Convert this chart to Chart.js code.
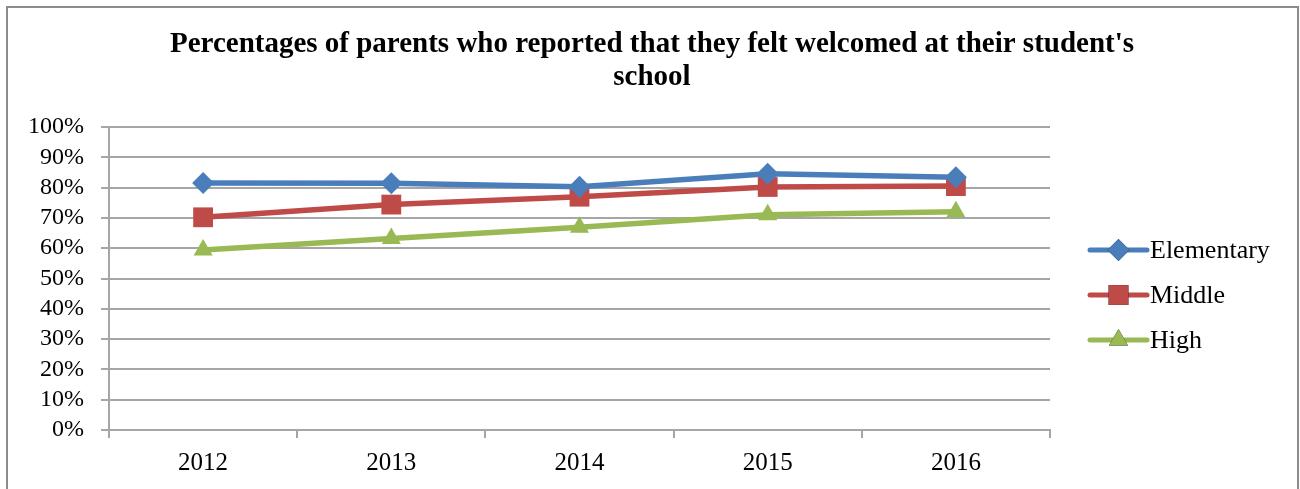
<!DOCTYPE html>
<html lang="en">
<head>
    <meta charset="UTF-8">
    <title>Parents who felt welcomed</title>
    <script src="https://cdn.jsdelivr.net/npm/chart.js@4.4.0/dist/chart.umd.min.js"></script>
    <style>
        html, body { margin: 0; padding: 0; background: #fff; }
        #wrap { width: 1300px; height: 489px; position: relative; }
    </style>
</head>
<body>
<div id="wrap"><canvas id="chart" width="1300" height="489"></canvas></div>

<script>
    // chart data
    const years = ['2012', '2013', '2014', '2015', '2016'];
    const elementary = [81.5, 81.4, 80.3, 84.6, 83.4];
    const middle = [70.2, 74.4, 77.0, 80.2, 80.5];
    const high = [59.4, 63.2, 66.9, 71.0, 72.0];
    const seriesNames = ['Elementary', 'Middle', 'High'];
    const yTicks = [0, 10, 20, 30, 40, 50, 60, 70, 80, 90, 100];
    const titleLines = ["Percentages of parents who reported that they felt welcomed at their student's", 'school'];

    const serif = "'Liberation Serif', 'Times New Roman', serif";
    const gridGray = '#a6a6a6';

    // frame + title (title centred over the whole picture, not the plot)
    const framePlugin = {
        id: 'frame',
        beforeDraw(chart) {
            const ctx = chart.ctx;
            ctx.save();
            ctx.fillStyle = '#fff';
            ctx.fillRect(0, 0, chart.width, chart.height);
            ctx.strokeStyle = '#8c8c8c';
            ctx.lineWidth = 2;
            ctx.strokeRect(7, 7, 1291, 500);
            ctx.fillStyle = '#000';
            ctx.font = 'bold 29px ' + serif;
            ctx.textAlign = 'center';
            ctx.textBaseline = 'middle';
            titleLines.forEach((t, i) => ctx.fillText(t, 652, 45 + i * 33));
            ctx.restore();
        }
    };

    // legend on the right: line with marker, then the label
    const sideLegend = {
        id: 'sideLegend',
        afterDraw(chart) {
            const ctx = chart.ctx;
            const x0 = 1090, x1 = 1147, xm = (x0 + x1) / 2;
            ctx.save();
            chart.data.datasets.forEach((ds, i) => {
                const y = 250 + i * 45;
                ctx.strokeStyle = ds.borderColor;
                ctx.lineWidth = 5;
                ctx.lineCap = 'round';
                ctx.beginPath();
                ctx.moveTo(x0, y);
                ctx.lineTo(x1, y);
                ctx.stroke();
                Chart.helpers.drawPoint(ctx, {
                    pointStyle: ds.pointStyle,
                    radius: ds.pointRadius,
                    rotation: 0,
                    borderWidth: 0
                }, xm, y);
                ctx.fillStyle = ds.borderColor;
                ctx.fill();
                ctx.fillStyle = '#000';
                ctx.font = '26px ' + serif;
                ctx.textBaseline = 'middle';
                ctx.textAlign = 'left';
                ctx.fillText(ds.label, x1 + 3, y + 1);
            });
            ctx.restore();
        }
    };

    new Chart(document.getElementById('chart'), {
        type: 'line',
        data: {
            labels: years,
            datasets: [
                { label: seriesNames[0], data: elementary, borderColor: '#4a7ebb', backgroundColor: '#4a7ebb',
                  pointStyle: 'rectRot', pointRadius: 11 },
                { label: seriesNames[1], data: middle, borderColor: '#be4b48', backgroundColor: '#be4b48',
                  pointStyle: 'rect', pointRadius: 14 },
                { label: seriesNames[2], data: high, borderColor: '#98b954', backgroundColor: '#98b954',
                  pointStyle: 'triangle', pointRadius: 11 }
            ].map(d => Object.assign(d, { borderWidth: 5.5, tension: 0, pointBorderWidth: 0, fill: false }))
        },
        options: {
            responsive: false,
            animation: false,
            devicePixelRatio: 1,
            layout: { padding: { left: 0, right: 250, top: 127, bottom: 0 } },
            plugins: {
                legend: { display: false },
                tooltip: { enabled: false },
                title: { display: false }
            },
            scales: {
                x: {
                    offset: true,
                    grid: { offset: true, drawOnChartArea: false, color: gridGray, tickLength: 8, lineWidth: 2 },
                    border: { color: gridGray, width: 2 },
                    ticks: { color: '#000', font: { family: serif, size: 25 }, padding: 10, autoSkip: false, maxRotation: 0 },
                    afterFit(scale) { scale.height = 59; }
                },
                y: {
                    min: 0, max: 100,
                    afterBuildTicks(scale) { scale.ticks = yTicks.map(v => ({ value: v })); },
                    grid: { color: gridGray, tickLength: 8, lineWidth: 2 },
                    border: { color: gridGray, width: 2 },
                    ticks: { color: '#000', font: { family: serif, size: 24 }, padding: 17, autoSkip: false,
                             callback: v => v + '%' },
                    afterFit(scale) { scale.width = 109; }
                }
            }
        },
        plugins: [framePlugin, sideLegend]
    });
</script>
</body>
</html>
